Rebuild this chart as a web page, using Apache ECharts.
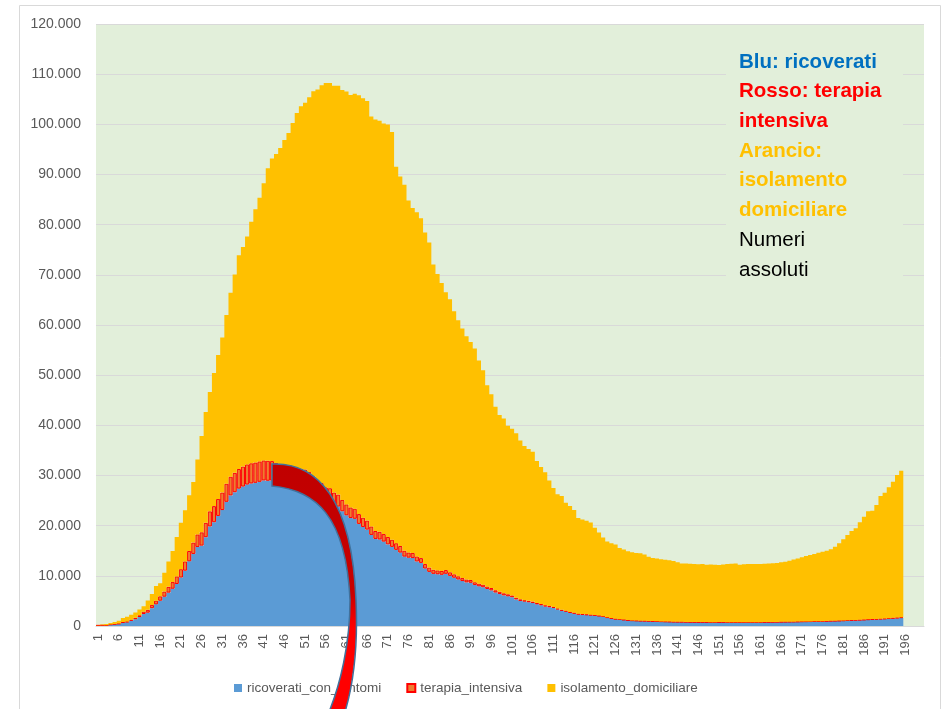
<!DOCTYPE html>
<html>
<head>
<meta charset="utf-8">
<title>Ricoverati, terapia intensiva, isolamento domiciliare</title>
<script src="https://cdn.jsdelivr.net/npm/echarts@6/dist/echarts.min.js"></script>
<style>
  html, body { margin: 0; padding: 0; background: #fff; }
  #chart { width: 944px; height: 709px; }
</style>
</head>
<body>
<div id="chart"></div>
<script>
// giorni 1..200 (dati fino al giorno 195)
const days = []
for (let i = 1; i <= 200; i++) days.push(String(i))

const yTicks = [0, 10000, 20000, 30000, 40000, 50000, 60000, 70000, 80000, 90000, 100000, 110000, 120000]

const ricoverati = [
  101, 114, 128, 248, 345, 401, 639, 742, 1034, 1346,
  1790, 2394, 2651, 3557, 4316, 5038, 5838, 6650, 7426, 8372,
  9663, 11025, 12894, 14363, 15757, 16020, 17708, 19846, 20692, 21937,
  23112, 24753, 26029, 26676, 27386, 27795, 28192, 28403, 28540, 28741,
  29010, 28949, 28976, 28718, 28485, 28399, 28242, 28144, 27847, 28023,
  28011, 27643, 26893, 26033, 25786, 25007, 24906, 24134, 23805, 22871,
  22068, 21533, 21372, 20353, 19723, 19210, 18149, 17357, 17242, 16823,
  16270, 15769, 15174, 14636, 13834, 13618, 13539, 12865, 12581, 11453,
  10792, 10400, 10311, 10207, 10400, 9991, 9624, 9269, 8957, 8695,
  8613, 8185, 7917, 7729, 7379, 7094, 6680, 6387, 6099, 5916,
  5742, 5301, 5002, 4864, 4729, 4581, 4320, 4131, 3893, 3747,
  3589, 3301, 3022, 2867, 2613, 2474, 2292, 2237, 2180, 2133,
  2090, 1974, 1855, 1641, 1489, 1346, 1263, 1191, 1090, 1040,
  1010, 980, 960, 940, 910, 880, 850, 830, 810, 790,
  780, 770, 760, 750, 740, 730, 740, 730, 720, 720,
  730, 740, 720, 710, 700, 710, 720, 730, 720, 720,
  730, 740, 750, 760, 770, 780, 790, 800, 810, 820,
  840, 850, 860, 870, 880, 900, 930, 960, 980, 1000,
  1030, 1060, 1090, 1120, 1150, 1180, 1220, 1260, 1300, 1340,
  1380, 1420, 1480, 1540, 1600
]

const terapiaIntensiva = [
  26, 35, 36, 56, 64, 105, 140, 166, 229, 295,
  351, 462, 567, 650, 733, 877, 1028, 1153, 1328, 1518,
  1672, 1851, 2060, 2257, 2498, 2655, 2857, 3009, 3204, 3396,
  3489, 3612, 3732, 3856, 3906, 3981, 4023, 4035, 4053, 4068,
  3994, 3977, 3898, 3792, 3693, 3605, 3497, 3381, 3343, 3260,
  3186, 3079, 2936, 2812, 2733, 2635, 2573, 2471, 2384, 2267,
  2173, 2102, 2009, 1956, 1863, 1795, 1694, 1578, 1539, 1501,
  1479, 1427, 1333, 1311, 1168, 1034, 1027, 999, 952, 893,
  855, 808, 775, 762, 749, 716, 676, 640, 595, 572,
  553, 541, 521, 505, 489, 475, 450, 435, 424, 408,
  353, 338, 316, 293, 287, 283, 263, 249, 236, 227,
  220, 209, 207, 178, 168, 163, 161, 152, 148, 127,
  115, 107, 103, 97, 94, 91, 86, 87, 82, 78,
  76, 71, 69, 70, 68, 65, 66, 64, 65, 62,
  60, 58, 57, 54, 52, 49, 48, 47, 45, 44,
  45, 44, 43, 41, 40, 39, 41, 42, 41, 42,
  41, 42, 43, 44, 45, 48, 49, 53, 55, 56,
  58, 58, 60, 63, 65, 66, 68, 69, 69, 72,
  76, 79, 86, 94, 97, 107, 109, 114, 120, 121,
  133, 142, 143, 147, 152
]

const isolamentoDomiciliare = [
  94, 162, 221, 284, 412, 543, 798, 927, 1000, 1065,
  1155, 1060, 1843, 2180, 2936, 2599, 3724, 5036, 6201, 7860,
  9268, 10197, 11108, 12090, 14935, 19185, 22116, 23783, 26522, 28697,
  30920, 33648, 36653, 39533, 42588, 43752, 45420, 48134, 50456, 52579,
  55270, 58320, 60313, 61557, 63084, 64873, 66534, 68744, 71063, 72333,
  73094, 74696, 76778, 78117, 79252, 80615, 80758, 81104, 81510, 81710,
  82286, 82212, 82722, 83504, 83619, 83652, 81708, 82008, 81923, 81855,
  82231, 81271, 75021, 73677, 72959, 70190, 68758, 68624, 67733, 66111,
  64793, 60862, 59101, 57382, 55404, 54422, 52452, 51051, 49770, 48485,
  47428, 46574, 44504, 42732, 40118, 38606, 36561, 35253, 34844, 33569,
  33202, 32790, 31658, 30720, 30246, 29866, 28289, 27330, 26508, 25023,
  23676, 22764, 22680, 21524, 21144, 20464, 19090, 18823, 18644, 18377,
  17368, 16574, 15680, 15098, 14913, 14811, 14214, 13977, 13708, 13582,
  13464, 13449, 13221, 12790, 12572, 12505, 12384, 12306, 12225, 12098,
  11860, 11622, 11633, 11596, 11588, 11521, 11562, 11423, 11485, 11436,
  11375, 11466, 11587, 11649, 11710, 11451, 11539, 11578, 11589, 11618,
  11609, 11618, 11657, 11696, 11735, 11872, 11961, 12147, 12385, 12604,
  12792, 13042, 13230, 13417, 13675, 13854, 14012, 14251, 14761, 15408,
  16174, 17001, 17764, 18256, 19413, 20503, 21531, 21616, 22700, 24449,
  25057, 26078, 27147, 28413, 29208
]

// testo del riquadro in alto a destra
const noteLines = [
  { text: 'Blu: ricoverati', color: '#0070C0', bold: true },
  { text: 'Rosso: terapia', color: '#FF0000', bold: true },
  { text: 'intensiva', color: '#FF0000', bold: true },
  { text: 'Arancio:', color: '#FFC000', bold: true },
  { text: 'isolamento', color: '#FFC000', bold: true },
  { text: 'domiciliare', color: '#FFC000', bold: true },
  { text: 'Numeri', color: '#000000', bold: false },
  { text: 'assoluti', color: '#000000', bold: false }
]

const FONT = '"Liberation Sans", Arial, sans-serif'

function fmtIt (v) {
  return String(v).replace(/\B(?=(\d{3})+(?!\d))/g, '.')
}

// freccia curva disegnata sopra il grafico
const arrowPath = 'M 272 464 C 318 462 352 500 356 600 C 358 645 353 685 345 712 ' +
  'L 329 712 C 340 685 350 645 350 600 C 346 515 315 490 272 486 Z'
echarts.graphic.registerShape('redArrow', echarts.graphic.extendPath(arrowPath, {}))

const noteGraphics = noteLines.map((l, i) => ({
  type: 'text',
  x: 739,
  y: 62 + i * 29.7,
  z: 20,
  style: {
    text: l.text,
    fill: l.color,
    font: (l.bold ? 'bold ' : '') + '20.5px ' + FONT,
    verticalAlign: 'middle'
  }
}))

const option = {
  animation: false,
  backgroundColor: '#ffffff',
  textStyle: { fontFamily: FONT },
  grid: {
    left: 96,
    right: 20,
    top: 24,
    bottom: 83,
    show: true,
    backgroundColor: '#E2EFDA',
    borderWidth: 0
  },
  legend: {
    left: 229,
    top: 676,
    itemWidth: 8,
    itemHeight: 8,
    itemGap: 25,
    icon: 'rect',
    textStyle: { fontSize: 13.5, color: '#595959', fontFamily: FONT },
    data: ['ricoverati_con_sintomi', 'terapia_intensiva', 'isolamento_domiciliare']
  },
  xAxis: {
    type: 'category',
    data: days,
    axisLine: { lineStyle: { color: '#D9D9D9' } },
    axisTick: { show: false },
    axisLabel: {
      interval: 4,
      rotate: 90,
      margin: 8,
      fontSize: 13,
      color: '#595959'
    }
  },
  yAxis: {
    type: 'value',
    min: yTicks[0],
    max: yTicks[yTicks.length - 1],
    interval: yTicks[1] - yTicks[0],
    axisLine: { show: false },
    axisTick: { show: false },
    axisLabel: { formatter: fmtIt, fontSize: 14, color: '#595959', margin: 15 },
    splitLine: { lineStyle: { color: '#D9D9D9' } }
  },
  series: [
    {
      name: 'ricoverati_con_sintomi',
      type: 'bar',
      stack: 'tot',
      barCategoryGap: '0%',
      large: true,
      largeThreshold: 50,
      itemStyle: { color: '#5B9BD5' },
      data: ricoverati
    },
    {
      name: 'terapia_intensiva',
      type: 'bar',
      stack: 'tot',
      itemStyle: { color: '#ED7D31', borderColor: '#FF0000', borderWidth: 1 },
      data: terapiaIntensiva
    },
    {
      name: 'isolamento_domiciliare',
      type: 'bar',
      stack: 'tot',
      large: true,
      largeThreshold: 50,
      itemStyle: { color: '#FFC000' },
      data: isolamentoDomiciliare
    }
  ],
  graphic: [
    // cornice dell'area grafico
    {
      type: 'rect',
      z: 1,
      silent: true,
      shape: { x: 19.5, y: 5.5, width: 921, height: 720 },
      style: { fill: 'none', stroke: '#D9D9D9', lineWidth: 1 }
    },
    // riquadro di testo
    {
      type: 'rect',
      z: 15,
      silent: true,
      shape: { x: 726, y: 40, width: 177, height: 250 },
      style: { fill: '#E2EFDA' }
    },
    ...noteGraphics,
    {
      type: 'redArrow',
      z: 30,
      silent: true,
      style: {
        fill: new echarts.graphic.LinearGradient(0, 0, 0, 1, [
          { offset: 0, color: '#C00000' },
          { offset: 0.52, color: '#C80000' },
          { offset: 0.66, color: '#FF0000' },
          { offset: 1, color: '#FF0000' }
        ]),
        stroke: '#41719C',
        lineWidth: 1.5
      }
    }
  ]
}

const myChart = echarts.init(document.getElementById('chart'))
myChart.setOption(option)
</script>
</body>
</html>
